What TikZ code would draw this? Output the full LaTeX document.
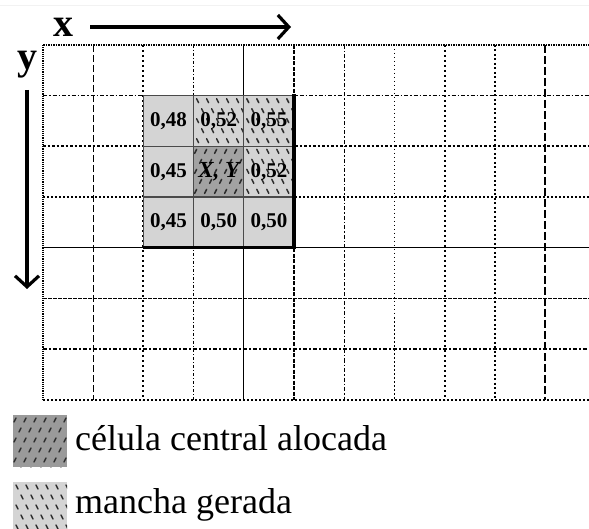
\documentclass[tikz,border=0pt]{standalone}
\usepackage{fontspec}
\setmainfont{Liberation Serif}
\usetikzlibrary{arrows.meta}

\definecolor{cellgray}{HTML}{D4D4D4}
\definecolor{centergray}{HTML}{A2A2A2}
\definecolor{swatchgray}{HTML}{9A9A9A}
\definecolor{markgray}{HTML}{2E2E2E}
\definecolor{innerline}{HTML}{4A4A4A}

% short slanted strokes laid over a filled cell: #1,#2 top-left, #3,#4 bottom-right, #5 = 1 for "\" and -1 for "/"
\newcommand{\strokecell}[5]{%
  \begin{scope}
    \clip (#1,#2) rectangle (#3,#4);
    \foreach \i in {0,...,6}{
      \foreach \j in {0,...,6}{
        \draw[hatchmark] ({#1+3+\i*10+mod(\j,2)*5},{#2+3+\j*10}) -- ++({#5*2},4);
      }
    }
  \end{scope}}

\tikzset{
  hatchmark/.style={markgray, line width=1.5pt, line cap=round},
  gridbase/.style={black, line width=1.5pt},
  axisarrow/.style={line width=3.8pt, -{Straight Barb[length=11pt,width=24pt,line width=3.2pt]}},
  celltext/.style={font=\fontsize{21}{21}\selectfont\bfseries, inner sep=0pt},
  legendtext/.style={font=\fontsize{36}{38}\selectfont, anchor=base west, inner sep=0pt},
  axislabel/.style={font=\fontsize{40}{40}\selectfont\bfseries, anchor=base, inner sep=0pt},
}

\begin{document}
\begin{tikzpicture}[x=1pt,y=-1pt]
\useasboundingbox (0,0) rectangle (589,529);
\fill[white] (0,0) rectangle (589,529);
\draw[gray!10, line width=0.8pt] (0,5) -- (589,5);

% axis labels and arrows
\node[axislabel] (xlab) at (63,37) {x};
\node[axislabel] (ylab) at (27,70) {y};
\coordinate (xs) at (90,27);
\coordinate (xe) at (291,27);
\coordinate (ys) at (27,90);
\coordinate (ye) at (27,289);
\draw[axisarrow] (xs) -- (xe);
\draw[axisarrow] (ys) -- (ye);

% vertical grid lines, each with its own stroke pattern
\draw[gridbase, dash pattern=on 1.2pt off 1pt] (43,45) -- (43,400);
\draw[gridbase, line width=1.3pt, dash pattern=on 7pt off 3pt] (93.2,45) -- (93.2,400);
\draw[gridbase, line width=2pt, dash pattern=on 2pt off 3pt] (143.4,45) -- (143.4,400);
\draw[gridbase, line width=1.3pt, dash pattern=on 3pt off 2pt on 1pt off 2pt] (193.6,45) -- (193.6,400);
\draw[gridbase, line width=1.2pt] (243.8,45) -- (243.8,400);
\draw[gridbase, line width=2pt, dash pattern=on 4pt off 1.5pt] (294,45) -- (294,400);
\draw[gridbase, line width=1.3pt, dash pattern=on 4pt off 2pt on 1.5pt off 2pt] (344.2,45) -- (344.2,400);
\draw[gridbase, line width=1.5pt, dash pattern=on 1.5pt off 2.5pt] (394.4,45) -- (394.4,400);
\draw[gridbase, line width=2.1pt, dash pattern=on 2pt off 3pt] (444.6,45) -- (444.6,400);
\draw[gridbase, line width=1.8pt, dash pattern=on 2pt off 2.5pt] (494.8,45) -- (494.8,400);
\draw[gridbase, line width=1.4pt, dash pattern=on 8pt off 3pt] (545,45) -- (545,400);

% horizontal grid lines
\draw[gridbase, line width=1.6pt, dash pattern=on 1.5pt off 1pt] (43,45) -- (589,45);
\draw[gridbase, line width=1.3pt, dash pattern=on 4pt off 2pt on 1.5pt off 2pt] (43,95.7) -- (589,95.7);
\draw[gridbase, line width=2.2pt, dash pattern=on 2.5pt off 2pt] (43,146.4) -- (589,146.4);
\draw[gridbase, line width=1.2pt, dash pattern=on 2pt off 2pt] (43,197.1) -- (589,197.1);
\draw[gridbase, line width=1.2pt] (43,247.8) -- (589,247.8);
\draw[gridbase, line width=1.8pt, dash pattern=on 3.5pt off 1.5pt] (43,298.5) -- (589,298.5);
\draw[gridbase, line width=1.8pt, dash pattern=on 4pt off 2pt on 2pt off 2pt] (43,349.2) -- (589,349.2);
\draw[gridbase, line width=1.8pt, dash pattern=on 2pt off 2pt] (43,400) -- (589,400);

% neighbourhood block: fills and stroke marks
\fill[cellgray] (143.4,95.7) rectangle (294,247.8);
\fill[centergray] (193.6,146.4) rectangle (243.8,197.1);
\strokecell{193.6}{95.7}{243.8}{146.4}{1}
\strokecell{243.8}{95.7}{294}{146.4}{1}
\strokecell{243.8}{146.4}{294}{197.1}{1}
\strokecell{193.6}{146.4}{243.8}{197.1}{-1}

% block cell borders
\draw[innerline, line width=1.2pt] (193.6,95.7) -- (193.6,247.8) (243.8,95.7) -- (243.8,247.8)
  (143.4,146.4) -- (294,146.4) (143.4,197.1) -- (294,197.1);
\draw[innerline, line width=1.4pt] (143.4,247.8) -- (143.4,95.7) -- (294,95.7);
\draw[black, line width=3.2pt] (294,94.2) -- (294,247.8) -- (143.4,247.8);

% cell values
\node[celltext] (c11) at (168.5,121) {0,48};
\node[celltext] (c12) at (218.7,121) {0,52};
\node[celltext] (c13) at (268.9,121) {0,55};
\node[celltext] (c21) at (168.5,171.7) {0,45};
\node[celltext, font=\fontsize{23}{23}\selectfont\bfseries\itshape] (c22) at (218.7,171.7) {X, Y};
\node[celltext] (c23) at (268.9,171.7) {0,52};
\node[celltext] (c31) at (168.5,222.4) {0,45};
\node[celltext] (c32) at (218.7,222.4) {0,50};
\node[celltext] (c33) at (268.9,222.4) {0,50};

% legend
\fill[swatchgray] (13,415) rectangle (67,467);
\strokecell{13}{415}{67}{467}{-1}
\fill[cellgray] (13,482) rectangle (67,529);
\strokecell{13}{482}{67}{529}{1}
\node[legendtext] (l1) at (75,450) {célula central alocada};
\node[legendtext] (l2) at (75,513) {mancha gerada};
\end{tikzpicture}
\end{document}
